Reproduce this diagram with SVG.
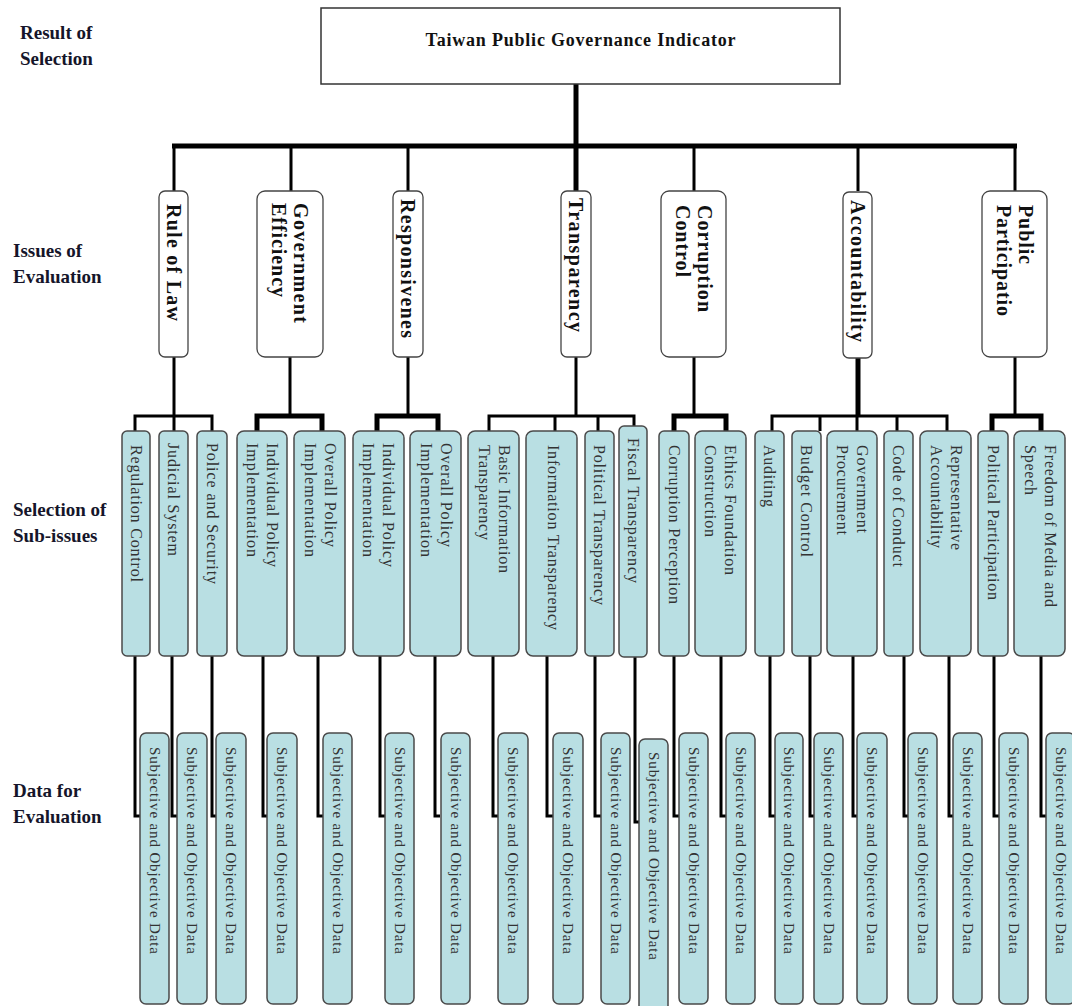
<svg xmlns="http://www.w3.org/2000/svg" width="1072" height="1006" viewBox="0 0 1072 1006">
<style>
.lbl{font-family:"Liberation Serif","Times New Roman",serif;font-weight:bold;font-size:19px;fill:#15152a}
.title{font-family:"Liberation Serif","Times New Roman",serif;font-weight:bold;font-size:18px;fill:#111}
.issue rect{fill:#fff;stroke:#444;stroke-width:1.3}
.issue text{font-family:"Liberation Serif","Times New Roman",serif;font-weight:bold;font-size:20px;fill:#111;dominant-baseline:central}
.sub rect,.data rect{fill:#b9dfe3;stroke:#4a4a4a;stroke-width:1.5}
.sub text{font-family:"Liberation Serif","Times New Roman",serif;font-size:16px;fill:#333;dominant-baseline:central}
.data text{font-family:"Liberation Serif","Times New Roman",serif;font-size:15px;fill:#333;dominant-baseline:central}
.ln{fill:none;stroke:#000;stroke-width:3}
.lnb{fill:none;stroke:#000;stroke-width:5}
</style>

<!-- left labels -->
<g id="labels">
<text class="lbl" x="20" y="39">Result of</text>
<text class="lbl" x="20" y="65">Selection</text>
<text class="lbl" x="13" y="257">Issues of</text>
<text class="lbl" x="13" y="283">Evaluation</text>
<text class="lbl" x="13" y="516">Selection of</text>
<text class="lbl" x="13" y="542">Sub-issues</text>
<text class="lbl" x="13" y="797">Data for</text>
<text class="lbl" x="13" y="823">Evaluation</text>
</g>

<!-- connectors -->
<g id="connectors">
<path class="lnb" d="M576 84V146" stroke-width="4"/>
<path class="lnb" d="M172 146H1017"/>
<path class="ln" d="M174 146V191M291 146V191M408 146V191M694 146V191M858 146V191M1015 146V191"/>
<path class="lnb" d="M576 146V191"/>
<path class="ln" d="M174 357V416M290 357V416M408 357V416M576 357V416M694 357V416M1015 357V416"/>
<path class="lnb" d="M858 357V416"/>
<path class="ln" d="M135 431V416H212V431M174 416V431"/>
<path class="lnb" d="M257 431V416H322V431"/>
<path class="lnb" d="M377 431V416H438V431"/>
<path class="ln" d="M489 431V416H634V426M555 416V431M598 416V431"/>
<path class="lnb" d="M674 431V416H726V431"/>
<path class="ln" d="M772 431V416H947V431M820 416V431M857 416V431M897 416V431"/>
<path class="lnb" d="M992 431V416H1041V431"/>
<path class="ln" d="M135 656V816H140"/>
<path class="ln" d="M172 656V816H177"/>
<path class="ln" d="M212 656V816H216"/>
<path class="ln" d="M263 656V816H267"/>
<path class="ln" d="M318 656V816H323" stroke-width="4"/>
<path class="ln" d="M380 656V816H385"/>
<path class="ln" d="M435 656V816H440"/>
<path class="ln" d="M493 656V816H498"/>
<path class="ln" d="M547 656V816H553"/>
<path class="ln" d="M595 656V816H601"/>
<path class="ln" d="M635 657V822H639"/>
<path class="ln" d="M674 656V816H679" stroke-width="4"/>
<path class="ln" d="M721 656V816H726"/>
<path class="ln" d="M770 656V816H775"/>
<path class="ln" d="M810 656V816H814"/>
<path class="ln" d="M853 656V816H857"/>
<path class="ln" d="M904 656V816H908" stroke-width="4"/>
<path class="ln" d="M949 656V816H953"/>
<path class="ln" d="M994 656V816H999"/>
<path class="ln" d="M1041 656V816H1046"/>
</g>

<!-- title -->
<g id="root">
<rect x="321" y="8" width="519" height="76" fill="#fff" stroke="#333" stroke-width="1.5"/>
<text class="title" x="580.5" y="46" text-anchor="middle" textLength="310">Taiwan Public Governance Indicator</text>
</g>

<!-- issues -->
<g id="issue-rule-of-law" class="issue"><rect x="159" y="191" width="29" height="166" rx="6"/>
<text transform="translate(173.5,204) rotate(90)" textLength="117">Rule of Law</text></g>
<g id="issue-government-efficiency" class="issue"><rect x="257" y="191" width="66" height="166" rx="8"/>
<text transform="translate(301,203) rotate(90)" textLength="120">Government</text>
<text transform="translate(279,203) rotate(90)" textLength="94">Efficiency</text></g>
<g id="issue-responsiveness" class="issue"><rect x="393" y="191" width="30" height="166" rx="6"/>
<text transform="translate(408,199) rotate(90)" textLength="139">Responsivenes</text></g>
<g id="issue-transparency" class="issue"><rect x="561" y="191" width="30" height="166" rx="6"/>
<text transform="translate(576,198) rotate(90)" textLength="134">Transparency</text></g>
<g id="issue-corruption-control" class="issue"><rect x="661" y="191" width="65" height="166" rx="8"/>
<text transform="translate(705,205) rotate(90)" textLength="107">Corruption</text>
<text transform="translate(683,205) rotate(90)" textLength="72">Control</text></g>
<g id="issue-accountability" class="issue"><rect x="843" y="192" width="29" height="166" rx="6"/>
<text transform="translate(857.5,200) rotate(90)" textLength="142">Accountability</text></g>
<g id="issue-public-participation" class="issue"><rect x="982" y="191" width="65" height="166" rx="8"/>
<text transform="translate(1026,205) rotate(90)" textLength="59">Public</text>
<text transform="translate(1004,205) rotate(90)" textLength="111">Participatio</text></g>

<!-- sub-issues -->
<g id="sub-regulation-control" class="sub"><rect x="122" y="431" width="28" height="225" rx="5"/>
<text transform="translate(136,445) rotate(90)" textLength="137">Regulation Control</text></g>
<g id="sub-judicial-system" class="sub"><rect x="159" y="431" width="29" height="225" rx="5"/>
<text transform="translate(173.5,443) rotate(90)" textLength="113">Judicial System</text></g>
<g id="sub-police-security" class="sub"><rect x="197" y="431" width="30" height="225" rx="5"/>
<text transform="translate(212,443) rotate(90)" textLength="141">Police and Security</text></g>
<g id="sub-ge-individual" class="sub"><rect x="237" y="431" width="50" height="225" rx="7"/>
<text transform="translate(272,443) rotate(90)" textLength="124">Individual Policy</text>
<text transform="translate(252,443) rotate(90)" textLength="114">Implementation</text></g>
<g id="sub-ge-overall" class="sub"><rect x="294" y="431" width="51" height="225" rx="7"/>
<text transform="translate(330,443) rotate(90)" textLength="104">Overall Policy</text>
<text transform="translate(310,443) rotate(90)" textLength="114">Implementation</text></g>
<g id="sub-resp-individual" class="sub"><rect x="353" y="431" width="51" height="225" rx="7"/>
<text transform="translate(388,443) rotate(90)" textLength="124">Individual Policy</text>
<text transform="translate(368,443) rotate(90)" textLength="114">Implementation</text></g>
<g id="sub-resp-overall" class="sub"><rect x="410" y="431" width="51" height="225" rx="7"/>
<text transform="translate(446,443) rotate(90)" textLength="104">Overall Policy</text>
<text transform="translate(426,443) rotate(90)" textLength="114">Implementation</text></g>
<g id="sub-basic-information" class="sub"><rect x="468" y="431" width="51" height="225" rx="7"/>
<text transform="translate(504,445) rotate(90)" textLength="128">Basic Information</text>
<text transform="translate(484,445) rotate(90)" textLength="95">Transparency</text></g>
<g id="sub-information-transparency" class="sub"><rect x="526" y="431" width="51" height="225" rx="7"/>
<text transform="translate(553,445) rotate(90)" textLength="185">Information Transparency</text></g>
<g id="sub-political-transparency" class="sub"><rect x="585" y="431" width="29" height="225" rx="5"/>
<text transform="translate(599.5,445) rotate(90)" textLength="160">Political Transparency</text></g>
<g id="sub-fiscal-transparency" class="sub"><rect x="619" y="426" width="28" height="231" rx="5"/>
<text transform="translate(633,438) rotate(90)" textLength="145">Fiscal Transparency</text></g>
<g id="sub-corruption-perception" class="sub"><rect x="659" y="431" width="30" height="225" rx="5"/>
<text transform="translate(674,445) rotate(90)" textLength="159">Corruption Perception</text></g>
<g id="sub-ethics-foundation" class="sub"><rect x="695" y="431" width="51" height="225" rx="7"/>
<text transform="translate(730,445) rotate(90)" textLength="130">Ethics Foundation</text>
<text transform="translate(710,445) rotate(90)" textLength="92">Construction</text></g>
<g id="sub-auditing" class="sub"><rect x="755" y="431" width="29" height="225" rx="5"/>
<text transform="translate(769.5,445) rotate(90)" textLength="62">Auditing</text></g>
<g id="sub-budget-control" class="sub"><rect x="792" y="431" width="29" height="225" rx="5"/>
<text transform="translate(806.5,445) rotate(90)" textLength="112">Budget Control</text></g>
<g id="sub-government-procurement" class="sub"><rect x="827" y="431" width="50" height="225" rx="7"/>
<text transform="translate(862,445) rotate(90)" textLength="88">Government</text>
<text transform="translate(842,445) rotate(90)" textLength="90">Procurement</text></g>
<g id="sub-code-of-conduct" class="sub"><rect x="884" y="431" width="29" height="225" rx="5"/>
<text transform="translate(898.5,445) rotate(90)" textLength="122">Code of Conduct</text></g>
<g id="sub-representative-accountability" class="sub"><rect x="920" y="431" width="51" height="225" rx="7"/>
<text transform="translate(956,445) rotate(90)" textLength="105">Representative</text>
<text transform="translate(936,445) rotate(90)" textLength="103">Accountability</text></g>
<g id="sub-political-participation" class="sub"><rect x="978" y="431" width="30" height="225" rx="5"/>
<text transform="translate(993,445) rotate(90)" textLength="155">Political Participation</text></g>
<g id="sub-freedom-media" class="sub"><rect x="1014" y="431" width="51" height="225" rx="7"/>
<text transform="translate(1050,445) rotate(90)" textLength="162">Freedom of Media and</text>
<text transform="translate(1030,445) rotate(90)" textLength="50">Speech</text></g>

<!-- data -->
<g id="data-1" class="data"><rect x="140" y="733" width="29" height="271" rx="6"/><text transform="translate(154.5,747) rotate(90)" textLength="207">Subjective and Objective Data</text></g>
<g id="data-2" class="data"><rect x="177" y="733" width="30" height="271" rx="6"/><text transform="translate(192,747) rotate(90)" textLength="207">Subjective and Objective Data</text></g>
<g id="data-3" class="data"><rect x="216" y="733" width="30" height="271" rx="6"/><text transform="translate(231,747) rotate(90)" textLength="207">Subjective and Objective Data</text></g>
<g id="data-4" class="data"><rect x="267" y="733" width="30" height="271" rx="6"/><text transform="translate(282,747) rotate(90)" textLength="207">Subjective and Objective Data</text></g>
<g id="data-5" class="data"><rect x="323" y="733" width="29" height="271" rx="6"/><text transform="translate(337.5,747) rotate(90)" textLength="207">Subjective and Objective Data</text></g>
<g id="data-6" class="data"><rect x="385" y="733" width="29" height="271" rx="6"/><text transform="translate(399.5,747) rotate(90)" textLength="207">Subjective and Objective Data</text></g>
<g id="data-7" class="data"><rect x="441" y="733" width="29" height="271" rx="6"/><text transform="translate(455.5,747) rotate(90)" textLength="207">Subjective and Objective Data</text></g>
<g id="data-8" class="data"><rect x="498" y="733" width="30" height="271" rx="6"/><text transform="translate(513,747) rotate(90)" textLength="207">Subjective and Objective Data</text></g>
<g id="data-9" class="data"><rect x="553" y="733" width="30" height="271" rx="6"/><text transform="translate(568,747) rotate(90)" textLength="207">Subjective and Objective Data</text></g>
<g id="data-10" class="data"><rect x="601" y="733" width="29" height="271" rx="6"/><text transform="translate(615.5,747) rotate(90)" textLength="207">Subjective and Objective Data</text></g>
<g id="data-11" class="data"><rect x="639" y="739" width="29" height="275" rx="6"/><text transform="translate(653.5,752) rotate(90)" textLength="208">Subjective and Objective Data</text></g>
<g id="data-12" class="data"><rect x="679" y="733" width="29" height="271" rx="6"/><text transform="translate(693.5,747) rotate(90)" textLength="207">Subjective and Objective Data</text></g>
<g id="data-13" class="data"><rect x="726" y="733" width="29" height="271" rx="6"/><text transform="translate(740.5,747) rotate(90)" textLength="207">Subjective and Objective Data</text></g>
<g id="data-14" class="data"><rect x="775" y="733" width="28" height="271" rx="6"/><text transform="translate(789,747) rotate(90)" textLength="207">Subjective and Objective Data</text></g>
<g id="data-15" class="data"><rect x="814" y="733" width="29" height="271" rx="6"/><text transform="translate(828.5,747) rotate(90)" textLength="207">Subjective and Objective Data</text></g>
<g id="data-16" class="data"><rect x="857" y="733" width="30" height="271" rx="6"/><text transform="translate(872,747) rotate(90)" textLength="207">Subjective and Objective Data</text></g>
<g id="data-17" class="data"><rect x="908" y="733" width="29" height="271" rx="6"/><text transform="translate(922.5,747) rotate(90)" textLength="207">Subjective and Objective Data</text></g>
<g id="data-18" class="data"><rect x="953" y="733" width="29" height="271" rx="6"/><text transform="translate(967.5,747) rotate(90)" textLength="207">Subjective and Objective Data</text></g>
<g id="data-19" class="data"><rect x="999" y="733" width="29" height="271" rx="6"/><text transform="translate(1013.5,747) rotate(90)" textLength="207">Subjective and Objective Data</text></g>
<g id="data-20" class="data"><rect x="1046" y="733" width="29" height="271" rx="6"/><text transform="translate(1060.5,747) rotate(90)" textLength="207">Subjective and Objective Data</text></g>
</svg>
